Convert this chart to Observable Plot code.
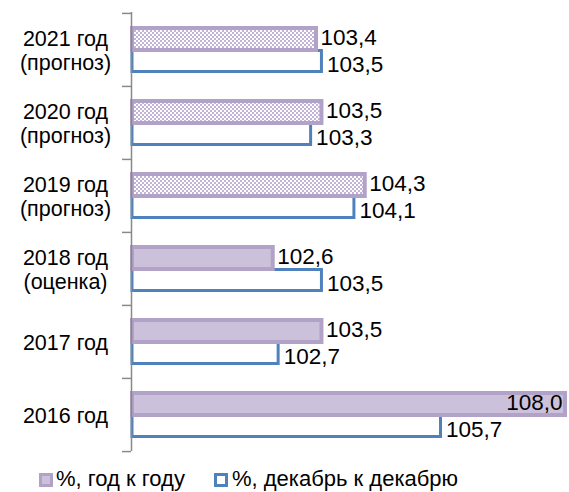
<!DOCTYPE html>
<html>
<head>
<meta charset="utf-8">
<script src="https://cdn.jsdelivr.net/npm/d3@7"></script>
<script src="https://cdn.jsdelivr.net/npm/@observablehq/plot@0.6"></script>
<style>
  html, body { margin: 0; padding: 0; background: #fff; }
  body { width: 569px; height: 492px; overflow: hidden; position: relative; font-family: "Liberation Sans", Arial, sans-serif; }
  #legend { position: absolute; left: 0; top: 466px; width: 569px; height: 26px; font-size: 22px; color: #000; }
  .sw { position: absolute; top: 7px; width: 8px; height: 8px; }
  .lt { position: absolute; top: 0; line-height: 26px; white-space: nowrap; }
</style>
</head>
<body>
<div id="chart"></div>
<div id="legend">
  <div class="sw" style="left:39px; background:#ccc1da; border:3px solid #b3a2c7;"></div>
  <div class="lt" style="left:56px;">%, год к году</div>
  <div class="sw" style="left:214px; background:#fff; border:3px solid #4f81bd;"></div>
  <div class="lt" style="left:232px;">%, декабрь к декабрю</div>
</div>
<script>
const categories = ["2021 год\n(прогноз)", "2020 год\n(прогноз)", "2019 год\n(прогноз)", "2018 год\n(оценка)", "2017 год", "2016 год"];
const yoy = [103.4, 103.5, 104.3, 102.6, 103.5, 108.0];
const decdec = [103.5, 103.3, 104.1, 103.5, 102.7, 105.7];
const forecast = [true, true, true, false, false, false];
const baseline = 100;

const rows = categories.map((c, i) => ({cat: c, yoy: yoy[i], dec: decdec[i], forecast: forecast[i]}));
const fmt = v => v.toFixed(1).replace(".", ",");

const W = 569, H = 466, mt = 12, mb = 15;
const bw = (H - mt - mb) / categories.length;

const chart = Plot.plot({
  width: W,
  height: H,
  marginLeft: 132,
  marginRight: 4,
  marginTop: mt,
  marginBottom: mb,
  style: {fontFamily: "'Liberation Sans', Arial, sans-serif", fontSize: "22px", color: "#000", background: "#fff", overflow: "visible"},
  x: {domain: [100, 108], axis: null},
  y: {domain: categories, padding: 0, label: null},
  marks: [
    Plot.axisY({tickSize: 0, tickPadding: 67, textAnchor: "middle", fontSize: 21.5, lineHeight: 1.12}),
    // blue bars (dec to dec)
    Plot.barX(rows, {y: "cat", x1: baseline, x2: "dec", insetTop: 37.5, insetBottom: 14.5, fill: "#fff", stroke: "#4f81bd", strokeWidth: 3}),
    // purple bars (year to year)
    Plot.barX(rows.filter(d => d.forecast), {y: "cat", x1: baseline, x2: "yoy", insetTop: 15, insetBottom: 36, fill: "url(#hatch)", stroke: "#b3a2c7", strokeWidth: 4}),
    Plot.barX(rows.filter(d => !d.forecast), {y: "cat", x1: baseline, x2: "yoy", insetTop: 15, insetBottom: 36, fill: "#ccc1da", stroke: "#b3a2c7", strokeWidth: 4}),
    // axis line and boundary ticks
    Plot.ruleX([baseline], {stroke: "#898989", strokeWidth: 1.5, dx: -1}),
    Plot.axisY({ticks: categories, tickSize: 9, tickFormat: () => "", stroke: "#898989", strokeWidth: 1.5, dy: -bw / 2, dx: -1}),
    Plot.axisY({ticks: categories.slice(-1), tickSize: 9, tickFormat: () => "", stroke: "#898989", strokeWidth: 1.5, dy: bw / 2, dx: -1}),
    // value labels
    Plot.text(rows.filter(d => d.yoy < 107.5), {y: "cat", x: "yoy", text: d => fmt(d.yoy), textAnchor: "start", dx: 4, dy: -12, fontSize: 22.5}),
    Plot.text(rows.filter(d => d.yoy >= 107.5), {y: "cat", x: "yoy", text: d => fmt(d.yoy), textAnchor: "end", dx: -3, dy: -12, fontSize: 22.5}),
    Plot.text(rows, {y: "cat", x: "dec", text: d => fmt(d.dec), textAnchor: "start", dx: 5, dy: 15, fontSize: 22.5})
  ]
});

const ns = "http://www.w3.org/2000/svg";
const defs = document.createElementNS(ns, "defs");
defs.innerHTML = '<pattern id="hatch" patternUnits="userSpaceOnUse" width="4" height="4">' +
  '<rect width="4" height="4" fill="#ffffff"/>' +
  '<rect x="0" y="0" width="2" height="2" fill="#c3b4d7"/>' +
  '<rect x="2" y="2" width="2" height="2" fill="#c3b4d7"/></pattern>';
chart.insertBefore(defs, chart.firstChild);
document.getElementById("chart").appendChild(chart);
</script>
</body>
</html>
